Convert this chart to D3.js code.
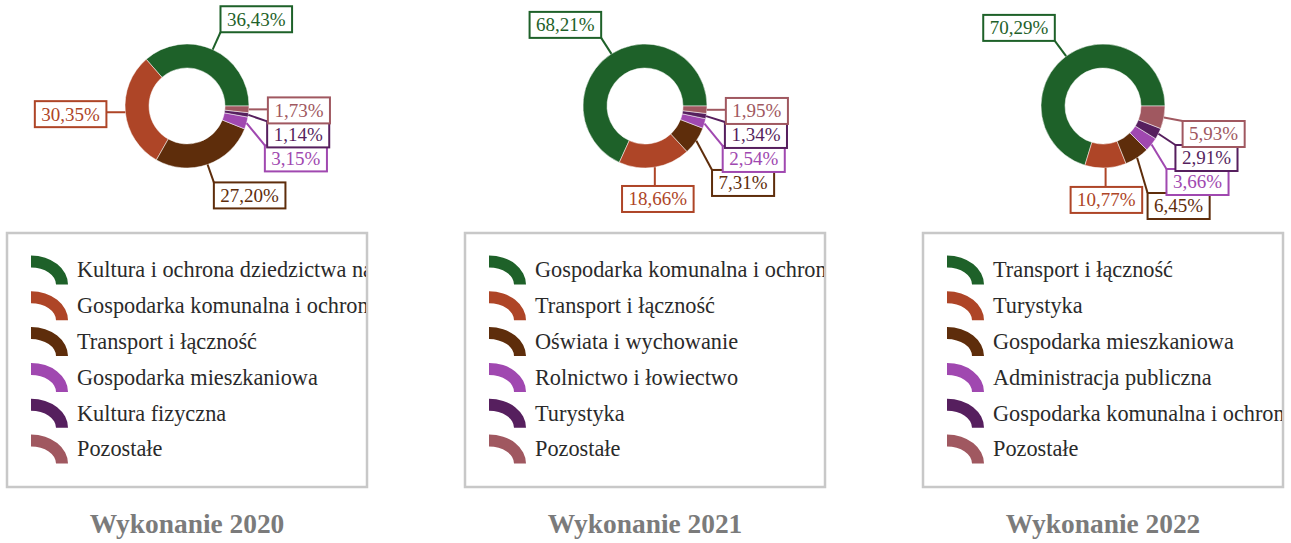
<!DOCTYPE html>
<html>
<head>
<meta charset="utf-8">
<script src="https://cdn.jsdelivr.net/npm/d3@7/dist/d3.min.js"></script>
<style>
  html, body { margin: 0; padding: 0; background: #ffffff; }
  svg { display: block; }
</style>
</head>
<body>
<svg id="chart" width="1291" height="543"></svg>
<script>
// Structure of expenditure by section, share in %
const titles = ["Wykonanie 2020", "Wykonanie 2021", "Wykonanie 2022"];

const categories2020 = [
  "Kultura i ochrona dziedzictwa narodowego",
  "Gospodarka komunalna i ochrona środowiska",
  "Transport i łączność",
  "Gospodarka mieszkaniowa",
  "Kultura fizyczna",
  "Pozostałe"
];
const values2020 = [36.43, 30.35, 27.20, 3.15, 1.14, 1.73];

const categories2021 = [
  "Gospodarka komunalna i ochrona środowiska",
  "Transport i łączność",
  "Oświata i wychowanie",
  "Rolnictwo i łowiectwo",
  "Turystyka",
  "Pozostałe"
];
const values2021 = [68.21, 18.66, 7.31, 2.54, 1.34, 1.95];

const categories2022 = [
  "Transport i łączność",
  "Turystyka",
  "Gospodarka mieszkaniowa",
  "Administracja publiczna",
  "Gospodarka komunalna i ochrona środowiska",
  "Pozostałe"
];
const values2022 = [70.29, 10.77, 6.45, 3.66, 2.91, 5.93];

const sliceColors = ["#1e6129", "#ae4527", "#5e2d0b", "#a048b0", "#561f5e", "#a05860"];

const panels = [
  { title: titles[0], categories: categories2020, values: values2020 },
  { title: titles[1], categories: categories2021, values: values2021 },
  { title: titles[2], categories: categories2022, values: values2022 }
];

// ---- layout ----
const PANEL_STEP = 458;
const CX = 187, CY = 106;
const R_OUT = 62, R_IN = 38;
const LINE_LEN = 19;
const LABEL_FONT = 19, LABEL_PAD = 6.5, LABEL_H = 26, LABEL_STEP = 24;
const SERIF = "'Liberation Serif', 'Times New Roman', Times, serif";

const LEG_X = 7, LEG_Y = 233, LEG_W = 360, LEG_H = 254;
const LEG_ROW0 = 270, LEG_ROW_STEP = 35.8;
const ICON_X = 31, ICON_W = 37, ICON_H = 29, ICON_T = 12;
const LEG_TEXT_X = 77, LEG_FONT = 22.3;
const TITLE_FONT = 27.4, TITLE_Y = 533;

const fmtPct = v => d3.format(".2f")(v).replace(".", ",") + "%";

const svg = d3.select("#chart");
const defs = svg.append("defs");

// text measurement helper
const probe = svg.append("text")
  .attr("font-family", SERIF).attr("font-size", LABEL_FONT)
  .attr("visibility", "hidden");
const measure = s => { probe.text(s); return probe.node().getComputedTextLength(); };

const pie = d3.pie().sort(null)
  .startAngle(Math.PI / 2)
  .endAngle(Math.PI / 2 - 2 * Math.PI);
const arc = d3.arc().innerRadius(R_IN).outerRadius(R_OUT);

panels.forEach((p, i) => {
  const g = svg.append("g").attr("transform", `translate(${i * PANEL_STEP},0)`);

  // donut
  const arcs = pie(p.values);
  const donut = g.append("g").attr("transform", `translate(${CX},${CY})`);
  donut.selectAll("path").data(arcs).join("path")
    .attr("d", arc)
    .attr("fill", (d, j) => sliceColors[j])
    .attr("stroke", "rgba(255,255,255,0.5)")
    .attr("stroke-width", 1);

  // label boxes
  const labels = arcs.map((a, j) => {
    const mid = (a.startAngle + a.endAngle) / 2;
    const dx = Math.sin(mid), dy = -Math.cos(mid);
    const p0 = [CX + R_OUT * dx, CY + R_OUT * dy];
    const pe = [CX + (R_OUT + LINE_LEN) * dx, CY + (R_OUT + LINE_LEN) * dy];
    const text = fmtPct(a.data);
    const w = measure(text) + 2 * LABEL_PAD;
    const side = dx > 0.25 ? "right" : dx < -0.25 ? "left" : "center";
    const x = side === "right" ? pe[0] : side === "left" ? pe[0] - w : pe[0] - w / 2;
    const y = dy > 0.15 ? pe[1] : dy < -0.15 ? pe[1] - LABEL_H : pe[1] - LABEL_H / 2;
    return { j, text, w, side, x, y, p0 };
  });

  // push overlapping labels on each side downward
  ["left", "right"].forEach(side => {
    const group = labels.filter(l => l.side === side).sort((a, b) => a.y - b.y);
    for (let k = 1; k < group.length; k++) {
      const prev = group[k - 1];
      if (group[k].y < prev.y + LABEL_STEP) group[k].y = prev.y + LABEL_STEP;
    }
  });

  labels.forEach(l => {
    const color = sliceColors[l.j];
    const tx = Math.max(l.x, Math.min(l.x + l.w, l.p0[0]));
    const ty = Math.max(l.y, Math.min(l.y + LABEL_H, l.p0[1]));
    g.append("line")
      .attr("x1", l.p0[0]).attr("y1", l.p0[1])
      .attr("x2", tx).attr("y2", ty)
      .attr("stroke", color).attr("stroke-width", 2);
  });

  labels.forEach(l => {
    const color = sliceColors[l.j];
    g.append("rect")
      .attr("x", l.x).attr("y", l.y)
      .attr("width", l.w).attr("height", LABEL_H)
      .attr("fill", "#ffffff")
      .attr("stroke", color).attr("stroke-width", 2);
    g.append("text")
      .attr("x", l.x + l.w / 2).attr("y", l.y + LABEL_H / 2 + LABEL_FONT * 0.34)
      .attr("text-anchor", "middle")
      .attr("font-family", SERIF).attr("font-size", LABEL_FONT)
      .attr("fill", color)
      .text(l.text);
  });

  // legend
  const clipId = `legend-clip-${i}`;
  defs.append("clipPath").attr("id", clipId)
    .append("rect").attr("x", LEG_X + 1).attr("y", LEG_Y + 1)
    .attr("width", LEG_W - 2).attr("height", LEG_H - 2);

  g.append("rect")
    .attr("x", LEG_X).attr("y", LEG_Y)
    .attr("width", LEG_W).attr("height", LEG_H)
    .attr("fill", "#ffffff")
    .attr("stroke", "#c8c8c8").attr("stroke-width", 2.5);

  const leg = g.append("g").attr("clip-path", `url(#${clipId})`);
  p.categories.forEach((name, j) => {
    const cy = LEG_ROW0 + j * LEG_ROW_STEP;
    const top = cy - ICON_H / 2;
    const iconPath =
      `M${ICON_X},${top}` +
      `A${ICON_W},${ICON_H} 0 0 1 ${ICON_X + ICON_W},${top + ICON_H}` +
      `L${ICON_X + ICON_W - ICON_T},${top + ICON_H}` +
      `A${ICON_W - ICON_T},${ICON_H - ICON_T} 0 0 0 ${ICON_X},${top + ICON_T}Z`;
    leg.append("path").attr("d", iconPath).attr("fill", sliceColors[j]);
    leg.append("text")
      .attr("x", LEG_TEXT_X).attr("y", cy + LEG_FONT * 0.33)
      .attr("font-family", SERIF).attr("font-size", LEG_FONT)
      .attr("fill", "#2a2a2a")
      .text(name);
  });

  // title
  g.append("text")
    .attr("x", LEG_X + LEG_W / 2).attr("y", TITLE_Y)
    .attr("text-anchor", "middle")
    .attr("font-family", SERIF).attr("font-size", TITLE_FONT).attr("font-weight", "bold")
    .attr("fill", "#7b7b7b")
    .text(p.title);
});

probe.remove();
</script>
</body>
</html>
